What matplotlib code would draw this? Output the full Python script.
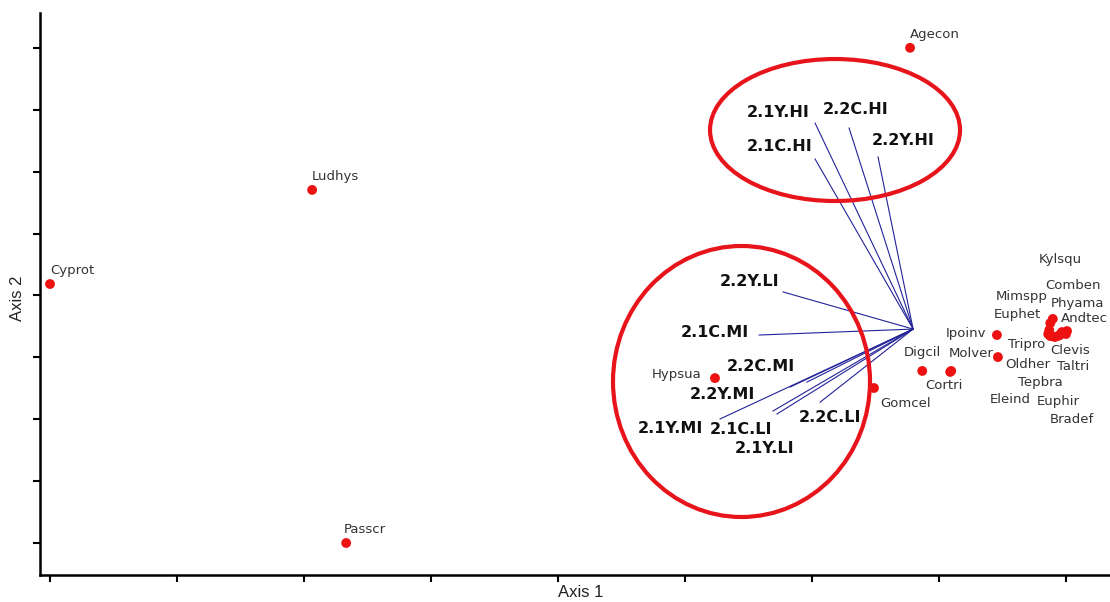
import numpy as np
import matplotlib
matplotlib.use("Agg")
import matplotlib.pyplot as plt
from matplotlib.patches import Ellipse
from matplotlib.ticker import MultipleLocator

# species scores (axis 1, axis 2)
species = ["Cyprot", "Ludhys", "Passcr", "Agecon", "Hypsua", "Gomcel", "Digcil",
           "Cortri", "Molver", "Ipoinv", "Oldher", "Tripro", "Kylsqu", "Comben",
           "Mimspp", "Phyama", "Euphet", "Andtec", "Clevis", "Taltri", "Tepbra",
           "Eleind", "Euphir", "Bradef"]
sp_x = [-1.500, -0.984, -0.917, 0.193, -0.191, 0.122, 0.217,
        0.272, 0.274, 0.364, 0.366, 0.469, 0.474, 0.469,
        0.467, 0.492, 0.465, 0.502, 0.488, 0.500, 0.478,
        0.472, 0.484, 0.496]
sp_y = [0.046, 0.426, -1.000, 1.000, -0.334, -0.374, -0.305,
        -0.309, -0.305, -0.160, -0.249, -0.164, -0.095, -0.112,
        -0.140, -0.148, -0.156, -0.144, -0.160, -0.156, -0.168,
        -0.164, -0.164, -0.152]

# environmental vectors (biplot), drawn from the centroid
vec_names = ["2.1Y.HI", "2.2C.HI", "2.2Y.HI", "2.1C.HI", "2.2Y.LI", "2.1C.MI",
             "2.2C.MI", "2.2Y.MI", "2.1Y.MI", "2.1C.LI", "2.1Y.LI", "2.2C.LI"]
vec_x = [0.006, 0.073, 0.130, 0.006, -0.057, -0.104,
         -0.010, -0.043, -0.181, -0.077, -0.069, 0.016]
vec_y = [0.696, 0.676, 0.559, 0.551, 0.014, -0.160,
         -0.350, -0.370, -0.499, -0.467, -0.479, -0.431]
centroid = (0.199, -0.136)

# label offsets in pixels (dx, dy)
sp_off = {"Cyprot": (22, 14), "Ludhys": (23, 13), "Passcr": (19, 14),
          "Agecon": (25, 13), "Hypsua": (-38, 4), "Gomcel": (32, -15),
          "Digcil": (0, 18), "Cortri": (-6, -14), "Molver": (20, 17),
          "Ipoinv": (-31, 2), "Oldher": (30, -7), "Tripro": (-24, -8),
          "Kylsqu": (8, 59), "Comben": (23, 38), "Mimspp": (-28, 34),
          "Phyama": (16, 29), "Euphet": (-31, 20), "Andtec": (17, 13),
          "Clevis": (10, -15), "Taltri": (7, -32), "Tepbra": (-14, -45),
          "Eleind": (-42, -63), "Euphir": (0, -65), "Bradef": (8, -86)}
vec_off = {"2.1Y.HI": (-37, 11), "2.2C.HI": (7, 19), "2.1C.HI": (-35, 12),
           "2.2Y.HI": (25, 17), "2.2Y.LI": (-33, 10), "2.1C.MI": (-44, 3),
           "2.2C.MI": (-46, 16), "2.2Y.MI": (-68, -7), "2.1Y.MI": (-50, -10),
           "2.1C.LI": (-32, -18), "2.1Y.LI": (-12, -34), "2.2C.LI": (10, -15)}

fig = plt.figure(figsize=(11.1, 6.02), dpi=100)
ax = fig.add_axes([40 / 1110, 27 / 602, 1070 / 1110, 562 / 602])

# vectors
for name, vx, vy in zip(vec_names, vec_x, vec_y):
    ax.plot([centroid[0], vx], [centroid[1], vy], color="#23239a", lw=0.8, zorder=2)
    dx, dy = vec_off[name]
    ax.annotate(name, (vx, vy), xytext=(dx, dy), textcoords="offset pixels",
                ha="center", va="center", fontsize=11.5, fontweight="bold",
                color="#111111", zorder=4)

# species points
ax.scatter(sp_x, sp_y, s=50, color="#ee1111", edgecolors="none", zorder=3)
for name, x, y in zip(species, sp_x, sp_y):
    dx, dy = sp_off[name]
    ax.annotate(name, (x, y), xytext=(dx, dy), textcoords="offset pixels",
                ha="center", va="center", fontsize=9.5, color="#333333", zorder=4)

# hand-drawn groupings
ax.add_patch(Ellipse((0.0453, 0.668), 0.4921, 0.5735, fill=False,
                     edgecolor="#e8141c", lw=3, zorder=5))
ax.add_patch(Ellipse((-0.1388, -0.3477), 0.5059, 1.0945, fill=False,
                     edgecolor="#e8141c", lw=3, zorder=5))

ax.set_xlim(-1.5197, 0.5866)
ax.set_ylim(-1.1292, 1.1406)
ax.xaxis.set_major_locator(MultipleLocator(0.25))
ax.yaxis.set_major_locator(MultipleLocator(0.25))
ax.tick_params(direction="out", length=5, width=1.5, labelbottom=False, labelleft=False)
for side in ["top", "right"]:
    ax.spines[side].set_visible(False)
for side in ["left", "bottom"]:
    ax.spines[side].set_linewidth(1.8)

ax.set_xlabel("Axis 1", fontsize=12, family="Liberation Sans", color="#222222")
ax.set_ylabel("Axis 2", fontsize=12, family="Liberation Sans", color="#222222")
ax.xaxis.set_label_coords((581 - 40) / 1070, -(585 - 575) / 562)
ax.yaxis.set_label_coords(-(40 - 25) / 1070, (575 - 298) / 562)

fig.savefig("out.png", dpi=100)
